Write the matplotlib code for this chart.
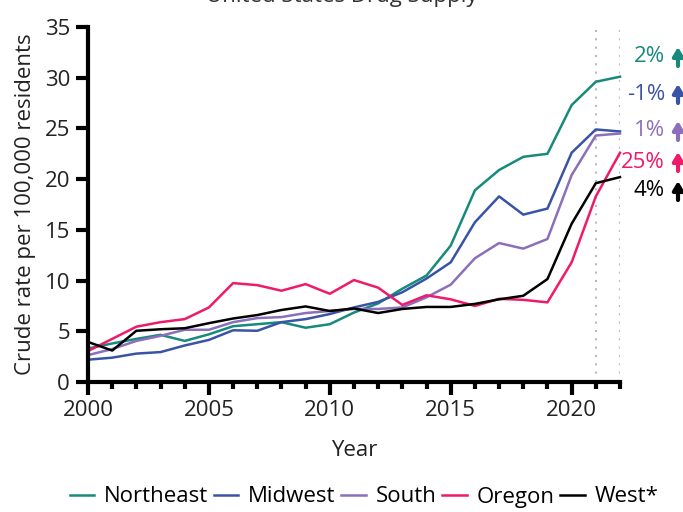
import matplotlib
matplotlib.use("Agg")
import matplotlib.pyplot as plt

plt.rcParams['font.family'] = ['Open Sans', 'DejaVu Sans']

# Data
years = list(range(2000, 2023))
northeast = [3.3, 3.8, 4.25, 4.65, 4.05, 4.7, 5.5, 5.7, 5.9, 5.35, 5.7, 6.85, 7.75, 9.2, 10.5,
             13.45, 18.9, 20.9, 22.2, 22.5, 27.3, 29.6, 30.1]
midwest = [2.2, 2.4, 2.8, 2.95, 3.6, 4.15, 5.1, 5.05, 5.9, 6.2, 6.7, 7.35, 7.9, 8.85, 10.2,
           11.8, 15.75, 18.3, 16.5, 17.1, 22.6, 24.9, 24.7]
south = [2.65, 3.25, 4.05, 4.55, 5.15, 5.15, 5.9, 6.3, 6.4, 6.8, 7.0, 7.2, 7.2, 7.35, 8.35,
         9.6, 12.2, 13.7, 13.15, 14.1, 20.4, 24.3, 24.5]
oregon = [3.05, 4.25, 5.45, 5.9, 6.2, 7.35, 9.75, 9.55, 9.0, 9.65, 8.7, 10.05, 9.3, 7.6, 8.55,
          8.15, 7.5, 8.2, 8.1, 7.85, 11.8, 18.3, 22.6]
west = [3.95, 3.1, 5.05, 5.2, 5.3, 5.8, 6.26, 6.6, 7.1, 7.45, 7.0, 7.25, 6.8, 7.2, 7.4,
        7.4, 7.7, 8.15, 8.5, 10.15, 15.6, 19.6, 20.2]

names = ["Northeast", "Midwest", "South", "Oregon", "West*"]
colors = ["#178a7c", "#3a54a5", "#8c6fbb", "#ef1a69", "#000000"]
changes = ["2%", "-1%", "1%", "25%", "4%"]
label_y = [57, 94, 131, 162, 191]  # pixel rows of the change labels

W, H = 683, 512
fig = plt.figure(figsize=(W / 100, H / 100), dpi=100)
ax = fig.add_axes([88 / W, 1 - 382 / H, 532 / W, 355 / H])

for series, name, c in zip([northeast, midwest, south, oregon, west], names, colors):
    ax.plot(years, series, color=c, lw=1.8, label=name, clip_on=False)

# dotted guides at the last two years
for yr in [2021, 2022]:
    ax.axvline(yr, color="#bbbbbb", ls=(0, (1, 3)), lw=1.5, zorder=0)

ax.set_xlim(2000, 2022)
ax.set_ylim(0, 35)
ax.set_xticks(range(2000, 2021, 5))
ax.set_xticks(range(2000, 2023), minor=True)
ax.set_yticks(range(0, 36, 5))
ax.tick_params(axis='both', which='major', length=9, width=3, labelsize=16, pad=4,
               labelcolor="#222222")
ax.tick_params(axis='x', which='minor', length=5, width=3)
for s in ["top", "right"]:
    ax.spines[s].set_visible(False)
for s in ["left", "bottom"]:
    ax.spines[s].set_linewidth(3)

ax.set_xlabel("Year", fontsize=16, labelpad=14, color="#222222")
ax.set_ylabel("Crude rate per 100,000 residents", fontsize=16, labelpad=6, color="#222222")

# change labels with arrows on the right
for txt, c, py in zip(changes, colors, label_y):
    fy = 1 - py / H
    fig.text(665 / W, fy, txt, color=c, fontsize=16, ha='right', va='center')
    ax.annotate("", xy=(678 / W, fy + 10 / H), xytext=(678 / W, fy - 9 / H),
                xycoords='figure fraction', textcoords='figure fraction',
                arrowprops=dict(arrowstyle="-|>,head_length=0.5,head_width=0.3",
                                color=c, lw=3, shrinkA=0, shrinkB=0))

fig.text(0.5, 1 - 2 / H, "United States Drug Supply", fontsize=16, ha='center',
         va='baseline', color="#333333")

fig.legend(loc='center', bbox_to_anchor=(364 / W, 1 - 497 / H), ncol=5, frameon=False,
           fontsize=16, handlelength=1.1, handletextpad=0.45, columnspacing=0.25,
           borderpad=0, borderaxespad=0)

fig.savefig("out.png", dpi=100)
